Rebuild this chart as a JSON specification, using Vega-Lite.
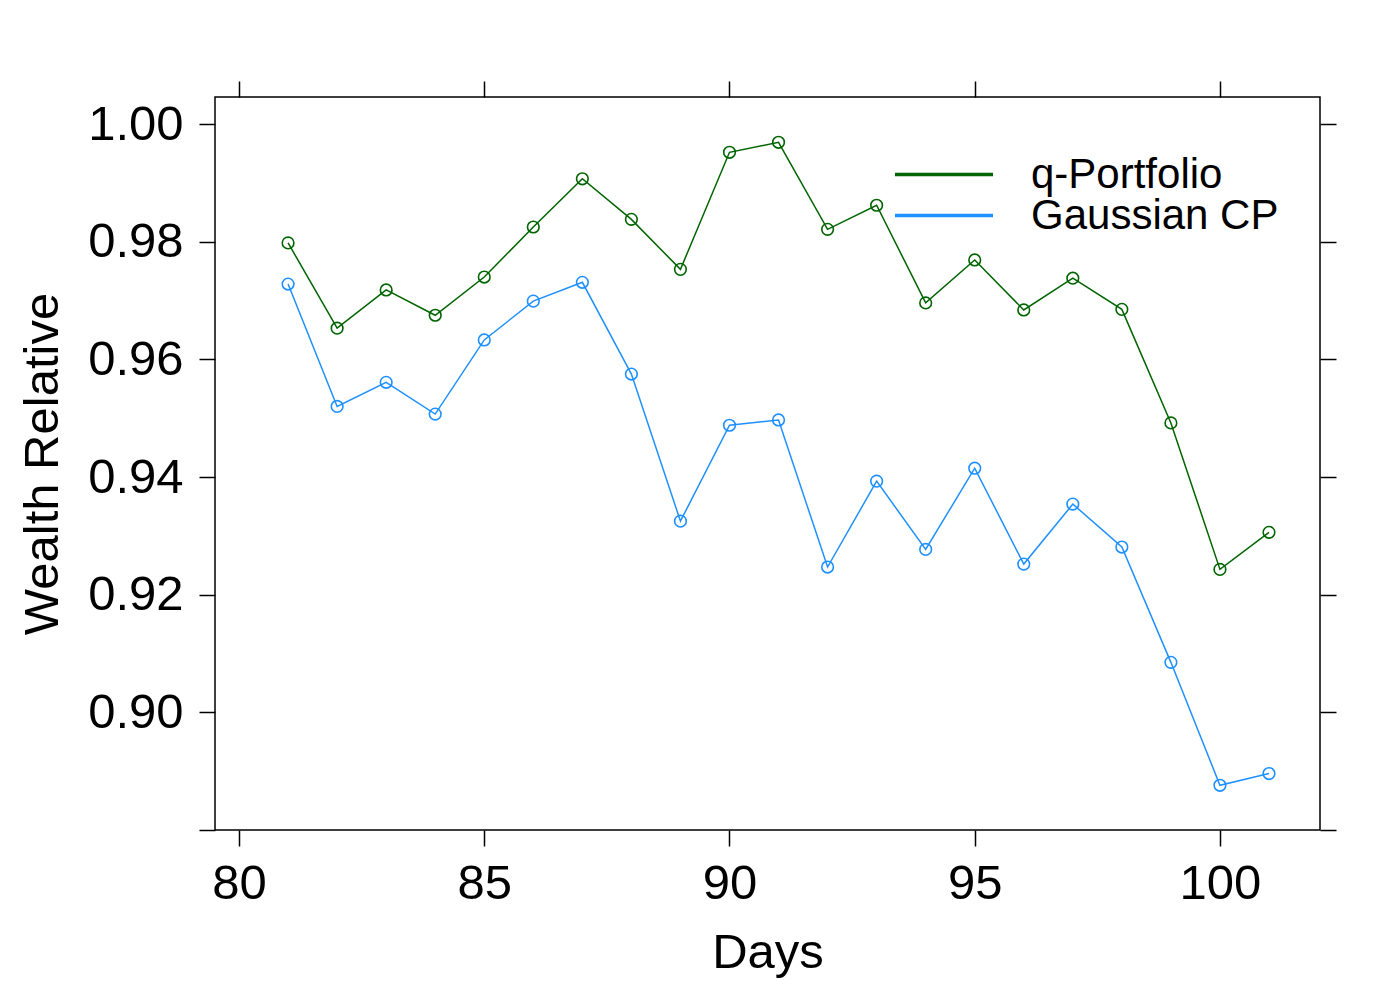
{
  "$schema": "https://vega.github.io/schema/vega-lite/v6.json",
  "width": 1105,
  "height": 733,
  "autosize": {"type": "none"},
  "padding": {"left": 215, "top": 97, "right": 80, "bottom": 170},
  "background": "white",
  "data": {
    "values": [
      {"day": 81, "wealth": 0.9798, "method": "q-Portfolio"},
      {"day": 82, "wealth": 0.9653, "method": "q-Portfolio"},
      {"day": 83, "wealth": 0.9718, "method": "q-Portfolio"},
      {"day": 84, "wealth": 0.9675, "method": "q-Portfolio"},
      {"day": 85, "wealth": 0.9740, "method": "q-Portfolio"},
      {"day": 86, "wealth": 0.9825, "method": "q-Portfolio"},
      {"day": 87, "wealth": 0.9907, "method": "q-Portfolio"},
      {"day": 88, "wealth": 0.9838, "method": "q-Portfolio"},
      {"day": 89, "wealth": 0.9753, "method": "q-Portfolio"},
      {"day": 90, "wealth": 0.9952, "method": "q-Portfolio"},
      {"day": 91, "wealth": 0.9969, "method": "q-Portfolio"},
      {"day": 92, "wealth": 0.9821, "method": "q-Portfolio"},
      {"day": 93, "wealth": 0.9862, "method": "q-Portfolio"},
      {"day": 94, "wealth": 0.9696, "method": "q-Portfolio"},
      {"day": 95, "wealth": 0.9769, "method": "q-Portfolio"},
      {"day": 96, "wealth": 0.9684, "method": "q-Portfolio"},
      {"day": 97, "wealth": 0.9738, "method": "q-Portfolio"},
      {"day": 98, "wealth": 0.9685, "method": "q-Portfolio"},
      {"day": 99, "wealth": 0.9492, "method": "q-Portfolio"},
      {"day": 100, "wealth": 0.9243, "method": "q-Portfolio"},
      {"day": 101, "wealth": 0.9306, "method": "q-Portfolio"},
      {"day": 81, "wealth": 0.9728, "method": "Gaussian CP"},
      {"day": 82, "wealth": 0.9520, "method": "Gaussian CP"},
      {"day": 83, "wealth": 0.9561, "method": "Gaussian CP"},
      {"day": 84, "wealth": 0.9507, "method": "Gaussian CP"},
      {"day": 85, "wealth": 0.9633, "method": "Gaussian CP"},
      {"day": 86, "wealth": 0.9699, "method": "Gaussian CP"},
      {"day": 87, "wealth": 0.9731, "method": "Gaussian CP"},
      {"day": 88, "wealth": 0.9575, "method": "Gaussian CP"},
      {"day": 89, "wealth": 0.9325, "method": "Gaussian CP"},
      {"day": 90, "wealth": 0.9488, "method": "Gaussian CP"},
      {"day": 91, "wealth": 0.9497, "method": "Gaussian CP"},
      {"day": 92, "wealth": 0.9247, "method": "Gaussian CP"},
      {"day": 93, "wealth": 0.9393, "method": "Gaussian CP"},
      {"day": 94, "wealth": 0.9277, "method": "Gaussian CP"},
      {"day": 95, "wealth": 0.9415, "method": "Gaussian CP"},
      {"day": 96, "wealth": 0.9252, "method": "Gaussian CP"},
      {"day": 97, "wealth": 0.9354, "method": "Gaussian CP"},
      {"day": 98, "wealth": 0.9281, "method": "Gaussian CP"},
      {"day": 99, "wealth": 0.9085, "method": "Gaussian CP"},
      {"day": 100, "wealth": 0.8876, "method": "Gaussian CP"},
      {"day": 101, "wealth": 0.8896, "method": "Gaussian CP"}
    ]
  },
  "encoding": {
    "color": {
      "field": "method",
      "type": "nominal",
      "scale": {"domain": ["q-Portfolio", "Gaussian CP"], "range": ["#006400", "#1E90FF"]},
      "legend": {
        "title": null,
        "orient": "none",
        "legendX": 678,
        "legendY": 58,
        "symbolType": "stroke",
        "symbolSize": 9604,
        "symbolStrokeWidth": 3.5,
        "clipHeight": 39,
        "labelFontSize": 42,
        "labelOffset": 36,
        "labelLimit": 0,
        "rowPadding": -3,
        "labelFont": "Liberation Sans",
        "labelColor": "black"
      }
    }
  },
  "layer": [
    {
      "mark": {"type": "line", "strokeWidth": 1.5},
      "encoding": {
        "x": {
          "field": "day",
          "type": "quantitative",
          "scale": {"domain": [79.51, 102.04], "nice": false, "zero": false},
          "axis": {
            "orient": "bottom",
            "values": [80, 85, 90, 95, 100],
            "title": "Days",
            "labelPadding": 13,
            "titlePadding": 20
          }
        },
        "y": {
          "field": "wealth",
          "type": "quantitative",
          "scale": {"domain": [0.88, 1.0046], "nice": false, "zero": false},
          "axis": {
            "orient": "left",
            "values": [0.88, 0.90, 0.92, 0.94, 0.96, 0.98, 1.00],
            "format": ".2f",
            "labelExpr": "datum.value < 0.89 ? '' : datum.label",
            "title": "Wealth Relative",
            "labelPadding": 16,
            "titlePadding": 20
          }
        }
      }
    },
    {
      "mark": {"type": "point", "filled": false, "size": 135, "strokeWidth": 1.6, "opacity": 1},
      "encoding": {
        "x": {
          "field": "day",
          "type": "quantitative",
          "axis": {"orient": "top", "values": [80, 85, 90, 95, 100], "labels": false, "title": null}
        },
        "y": {
          "field": "wealth",
          "type": "quantitative",
          "axis": {
            "orient": "right",
            "values": [0.88, 0.90, 0.92, 0.94, 0.96, 0.98, 1.00],
            "labels": false,
            "title": null
          }
        }
      }
    }
  ],
  "resolve": {"axis": {"x": "independent", "y": "independent"}},
  "config": {
    "view": {"stroke": "black", "strokeWidth": 1.5},
    "font": "Liberation Sans",
    "axis": {
      "domain": false,
      "grid": false,
      "ticks": true,
      "tickColor": "black",
      "tickWidth": 1.5,
      "tickSize": 16,
      "labelFont": "Liberation Sans",
      "labelFontSize": 49,
      "labelColor": "black",
      "titleFont": "Liberation Sans",
      "titleFontSize": 49,
      "titleFontWeight": "normal",
      "titleColor": "black"
    }
  }
}
